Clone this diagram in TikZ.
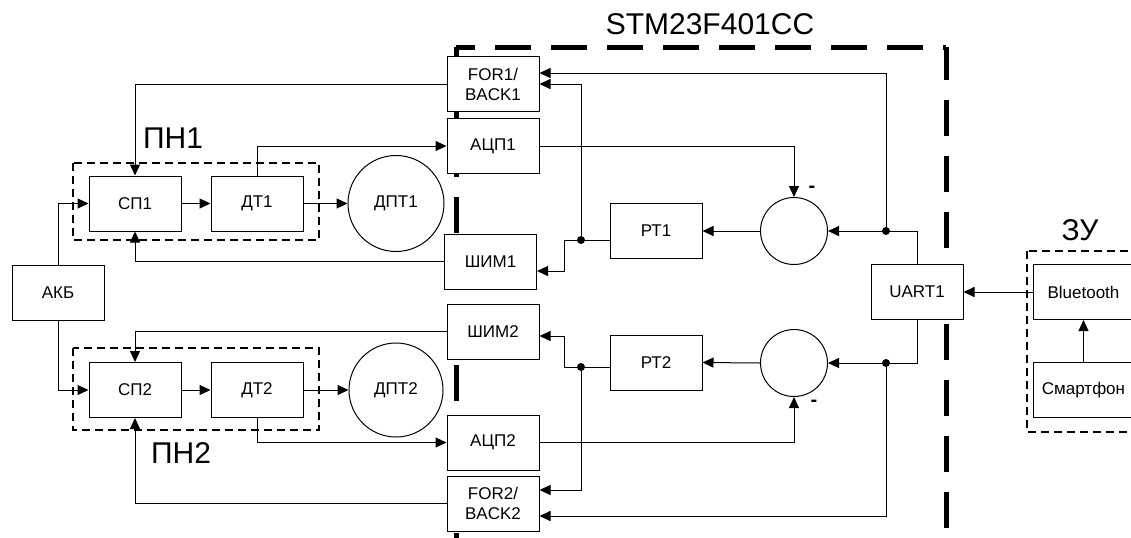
\documentclass[tikz,border=0pt]{standalone}
\usepackage{fontspec}
\setmainfont{Liberation Sans}
\usetikzlibrary{arrows.meta,positioning}

\begin{document}
\begin{tikzpicture}[x=0.5pt,y=-0.5pt,>={Triangle[length=5.5pt,width=5pt]},
 blok/.style={draw,line width=0.5pt,fill=white,minimum width=46pt,minimum height=27.5pt,align=center,inner sep=1pt,font=\fontsize{8.5}{10}\selectfont},
 kolo/.style={draw,circle,line width=0.5pt,fill=white,inner sep=0pt,font=\fontsize{8.5}{10}\selectfont},
 grupa/.style={draw,line width=0.7pt,dash pattern=on 4pt off 2.5pt},
 mcu/.style={line width=2.5pt,dash pattern=on 18pt off 10pt},
 big/.style={font=\fontsize{15}{18}\selectfont},
 lin/.style={line width=0.5pt}]
\clip (0,0) rectangle (1131,537);
% microcontroller border
\draw[mcu,dash phase=9pt] (456,47) -- (456,540);
\draw[mcu,dash phase=8.5pt] (456,47) -- (946,47);
\draw[mcu,dash phase=1.5pt] (946,47) -- (946,540);
\node[big] (stm) at (710,24) {STM23F401CC};
% power groups
\draw[grupa] (73,163) rectangle (319,240);
\draw[grupa] (73,348) rectangle (319,430);
\draw[grupa] (1027,251) rectangle (1150,432);
\node[big] (pn1) at (173,138) {ПН1};
\node[big] (pn2) at (181,453) {ПН2};
\node[big] (zu) at (1080,230) {ЗУ};
% blocks
\node[blok] (akb) at (58,292.5) {АКБ};
\node[blok] (sp1) at (135,203.5) {СП1};
\node[blok] (dt1) at (257,203.5) {ДТ1};
\node[kolo,minimum size=48pt] (dpt1) at (396,203.5) {ДПТ1};
\node[blok] (sp2) at (135,390) {СП2};
\node[blok] (dt2) at (257,390) {ДТ2};
\node[kolo,minimum size=47pt] (dpt2) at (396,390) {ДПТ2};
\node[blok] (for1) at (493,84) {FOR1/\\BACK1};
\node[blok] (adc1) at (493,146) {АЦП1};
\node[blok] (shim1) at (490.5,261.5) {ШИМ1};
\node[blok] (shim2) at (493,331.5) {ШИМ2};
\node[blok] (adc2) at (493,442.5) {АЦП2};
\node[blok] (for2) at (493,503.5) {FOR2/\\BACK2};
\node[blok] (rt1) at (656,231) {РТ1};
\node[blok] (rt2) at (656,362.5) {РТ2};
\node[kolo,minimum size=33.5pt] (sum1) at (794,231) {};
\node[kolo,minimum size=33.5pt] (sum2) at (794,363) {};
\node[blok] (uart) at (917,292) {UART1};
\node[blok,minimum width=50.5pt] (bt) at (1083.5,292) {Bluetooth};
\node[blok,minimum width=50.5pt] (phone) at (1083.5,390) {Смартфон};
\node[font=\bfseries] (m1) at (812,189) {-};
\node[font=\bfseries] (m2) at (814,403) {-};
\coordinate (j1) at (581,240);
\coordinate (j2) at (581,367);
\coordinate (d1) at (886,231);
\coordinate (d2) at (886,363);
% power path
\draw[lin,->] (akb.north) |- (sp1.west);
\draw[lin,->] (akb.south) |- (sp2.west);
\draw[lin,->] (sp1) -- (dt1);
\draw[lin,->] (dt1) -- (dpt1);
\draw[lin,->] (sp2) -- (dt2);
\draw[lin,->] (dt2) -- (dpt2);
\draw[lin,->] (dt1.north) |- (adc1.west);
\draw[lin,->] (dt2.south) |- (adc2.west);
\draw[lin,->] (for1.west) -| (sp1.north);
\draw[lin,->] (shim1.west) -| (sp1.south);
\draw[lin,->] (shim2.west) -| (sp2.north);
\draw[lin,->] (for2.west) -| (sp2.south);
% control loops
\draw[lin,->] (adc1.east) -| (sum1.north);
\draw[lin,->] (adc2.east) -| (sum2.south);
\draw[lin,->] (sum1.west) -- (rt1.east);
\draw[lin,->] (sum2.west) -- (rt2.east);
\draw[lin] ([yshift=-4.5pt]rt1.west) -- (j1);
\draw[lin,->] (j1) -- (564,240) |- ([yshift=-4.75pt]shim1.east);
\draw[lin,->] (j1) |- (for1.east);
\draw[lin] ([yshift=-2.25pt]rt2.west) -- (j2);
\draw[lin,->] (j2) -- (564,367) |- ([yshift=-2.25pt]shim2.east);
\draw[lin,->] (j2) |- ([yshift=6.75pt]for2.east);
\draw[lin,->] (uart.north) |- (sum1.east);
\draw[lin,->] (uart.south) |- (sum2.east);
\draw[lin,->] (d1) |- ([yshift=5.5pt]for1.east);
\draw[lin,->] (d2) |- ([yshift=-6.25pt]for2.east);
\draw[lin,->] (bt.west) -- (uart.east);
\draw[lin,->] (phone.north) -- (bt.south);
\foreach \p in {j1,j2,d1,d2}
  \fill (\p) circle (2pt);
\end{tikzpicture}
\end{document}
